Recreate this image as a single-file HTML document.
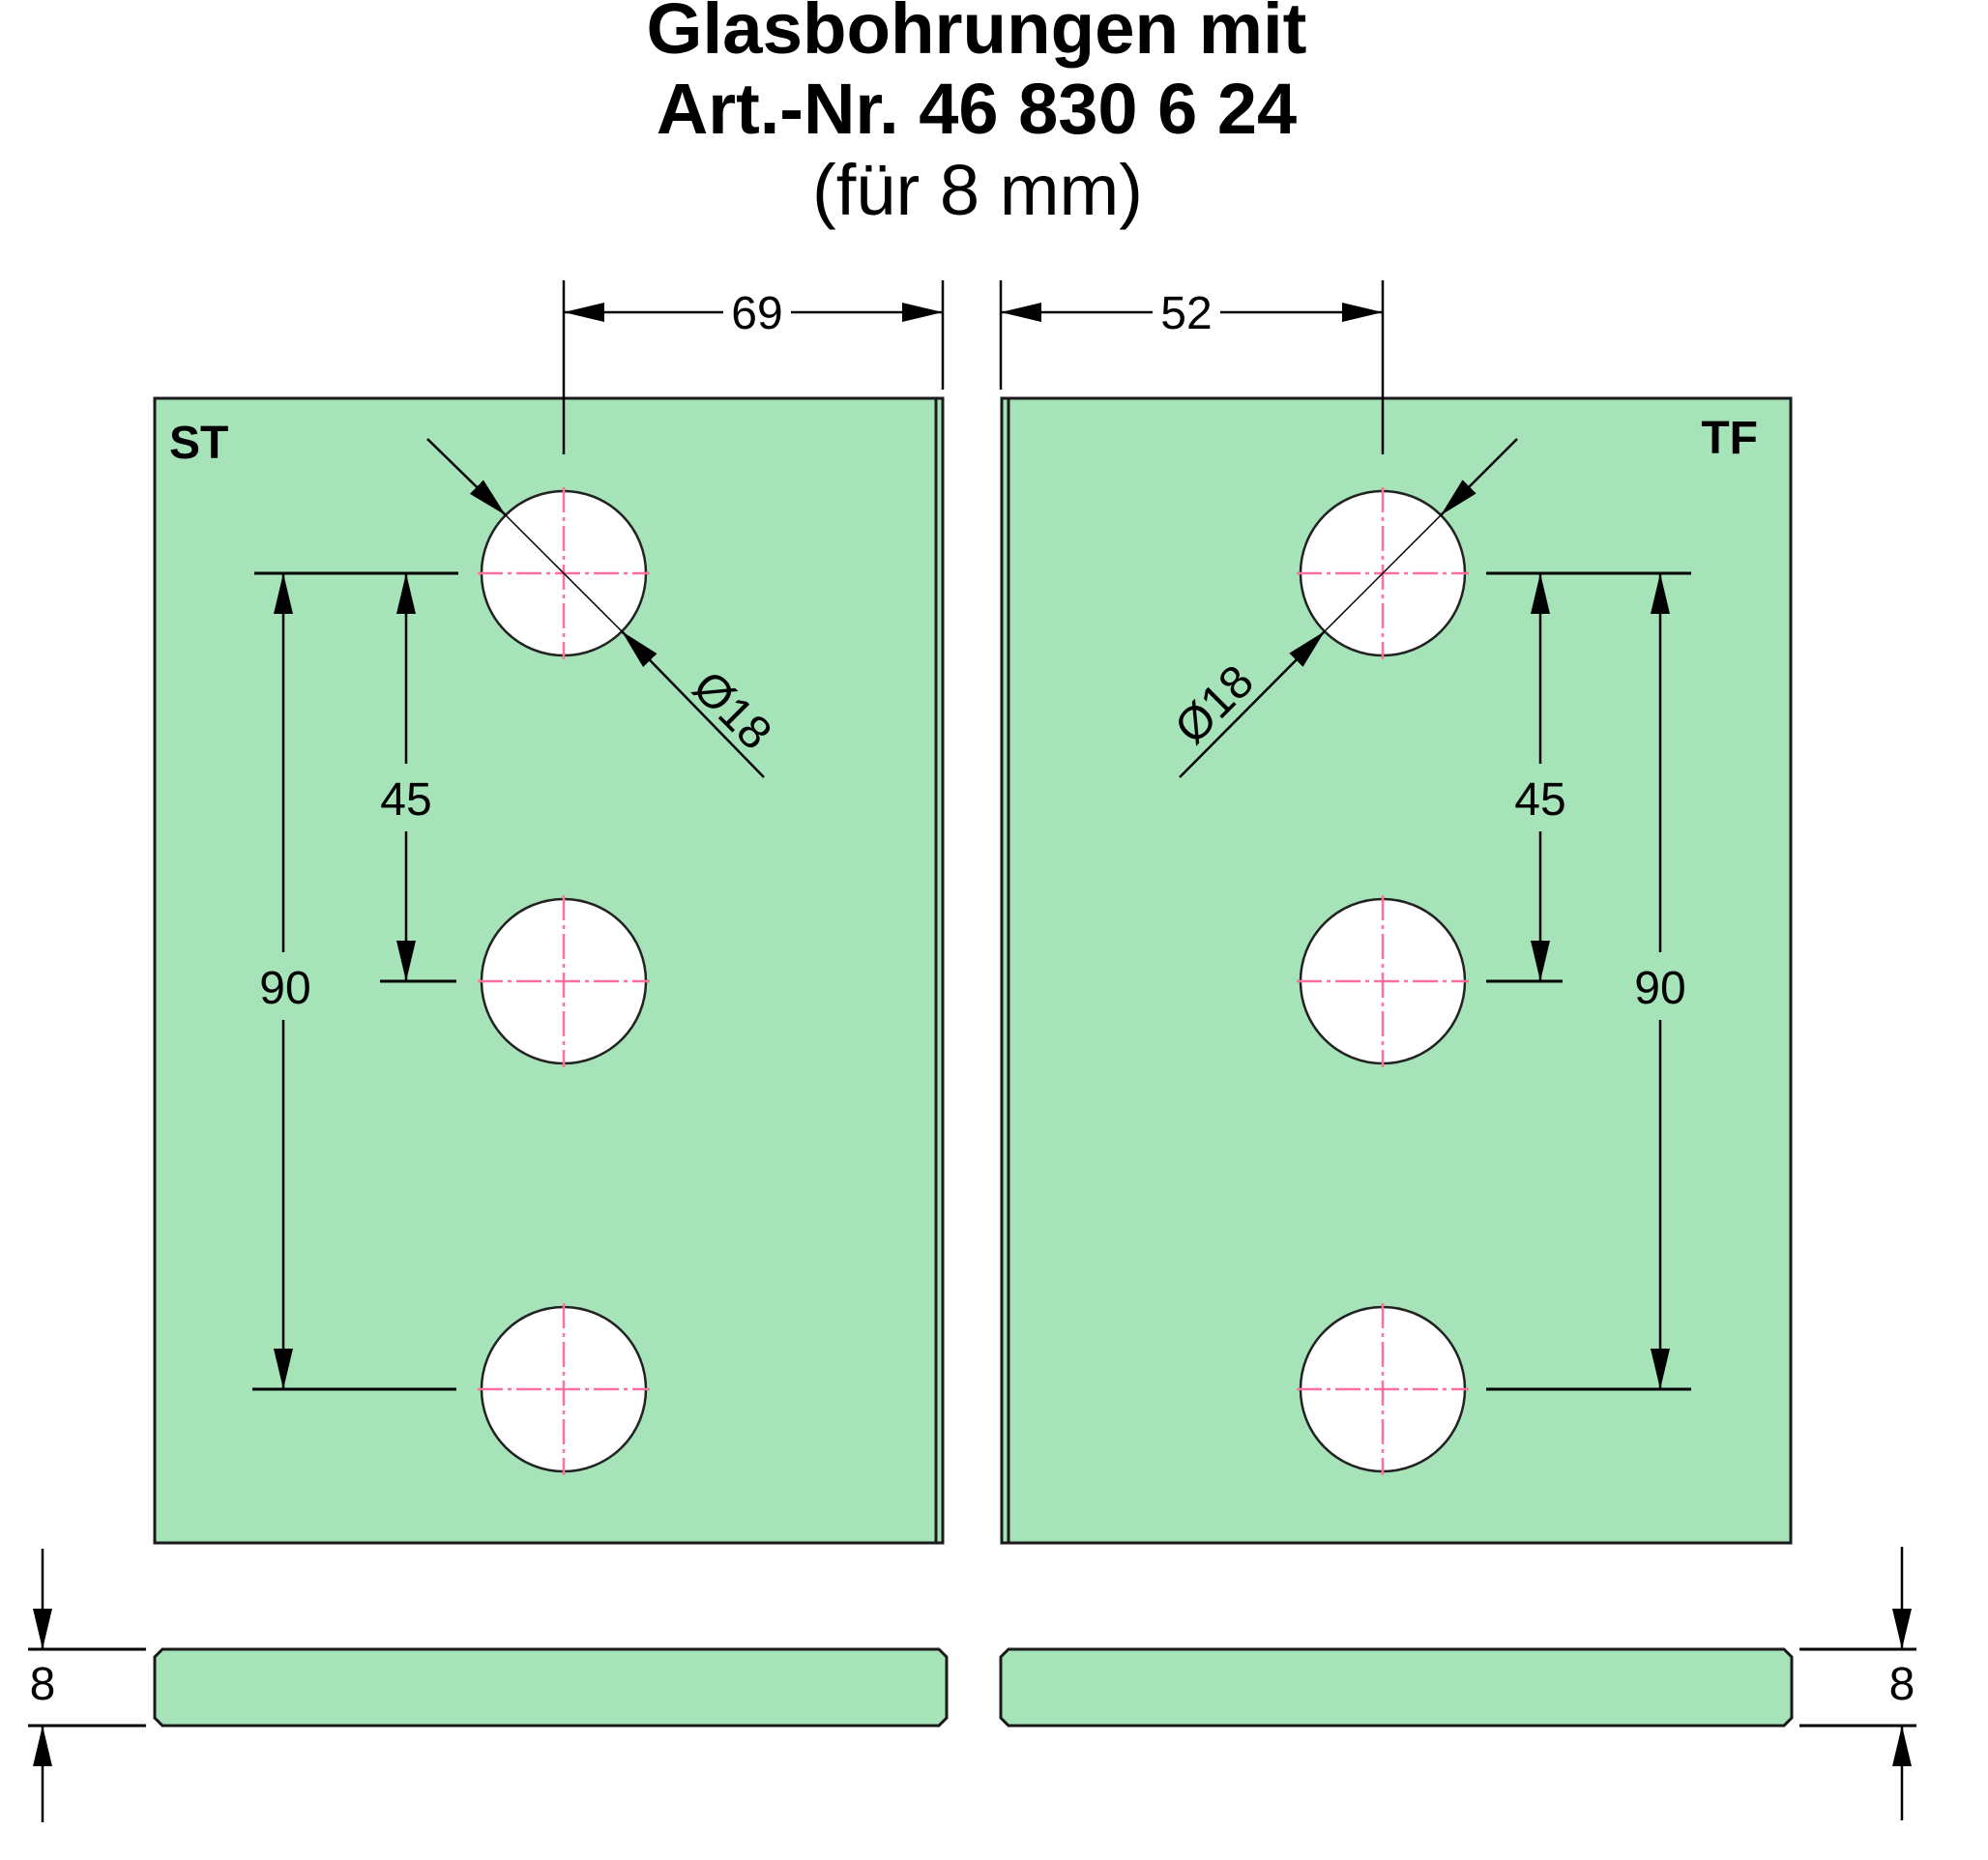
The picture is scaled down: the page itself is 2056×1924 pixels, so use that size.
<!DOCTYPE html>
<html><head><meta charset="utf-8"><style>html,body{margin:0;padding:0;background:#fff}svg{display:block}</style></head>
<body>
<svg width="2056" height="1924" viewBox="0 0 2056 1924" xmlns="http://www.w3.org/2000/svg" font-family="Liberation Sans, sans-serif">
<defs>
<marker id="a" viewBox="0 0 42 20" refX="42" refY="10" markerWidth="42" markerHeight="20" markerUnits="userSpaceOnUse" orient="auto-start-reverse"><path d="M0,0 L42,10 L0,20 Z" fill="#000"/></marker>
</defs>
<text x="1010" y="55" font-size="74" font-weight="bold" text-anchor="middle" textLength="683" lengthAdjust="spacingAndGlyphs">Glasbohrungen mit</text>
<text x="1010" y="138" font-size="74" font-weight="bold" text-anchor="middle">Art.-Nr. 46 830 6 24</text>
<text x="1011" y="222" font-size="74" text-anchor="middle" textLength="342" lengthAdjust="spacingAndGlyphs">(für 8 mm)</text>

<rect x="160" y="412" width="815" height="1184" fill="#a6e3b9" stroke="#1a1a1a" stroke-width="3"/>
<line x1="968" y1="412" x2="968" y2="1596" stroke="#1a1a1a" stroke-width="3"/>
<rect x="1036" y="412" width="816" height="1184" fill="#a6e3b9" stroke="#1a1a1a" stroke-width="3"/>
<line x1="1043" y1="412" x2="1043" y2="1596" stroke="#1a1a1a" stroke-width="3"/>
<text x="175" y="474" font-size="48" font-weight="bold">ST</text>
<text x="1818" y="469" font-size="48" font-weight="bold" text-anchor="end">TF</text>

<g stroke="#222" stroke-width="2.5" fill="#fff">
<circle cx="583" cy="593" r="85"/><circle cx="583" cy="1015" r="85"/><circle cx="583" cy="1437" r="85"/>
<circle cx="1430" cy="593" r="85"/><circle cx="1430" cy="1015" r="85"/><circle cx="1430" cy="1437" r="85"/>
</g>
<g stroke="#ff6fa0" stroke-width="2.5" stroke-dasharray="26,5,4,5">
<path d="M583,504V682M494,593H672M583,926V1104M494,1015H672M583,1348V1526M494,1437H672"/>
<path d="M1430,504V682M1341,593H1519M1430,926V1104M1341,1015H1519M1430,1348V1526M1341,1437H1519"/>
</g>

<g stroke="#000" stroke-width="2.5" fill="none">
<line x1="583" y1="290" x2="583" y2="470"/>
<line x1="975" y1="290" x2="975" y2="403"/>
<line x1="583" y1="323" x2="748" y2="323" marker-start="url(#a)"/>
<line x1="818" y1="323" x2="975" y2="323" marker-end="url(#a)"/>
<line x1="1035" y1="290" x2="1035" y2="403"/>
<line x1="1430" y1="290" x2="1430" y2="470"/>
<line x1="1035" y1="323" x2="1192" y2="323" marker-start="url(#a)"/>
<line x1="1262" y1="323" x2="1430" y2="323" marker-end="url(#a)"/>
<line x1="263" y1="593" x2="474" y2="593" stroke-width="3"/>
<line x1="393" y1="1015" x2="472" y2="1015" stroke-width="3"/>
<line x1="261" y1="1437" x2="472" y2="1437" stroke-width="3"/>
<line x1="420" y1="593" x2="420" y2="790" marker-start="url(#a)"/>
<line x1="420" y1="860" x2="420" y2="1015" marker-end="url(#a)"/>
<line x1="293" y1="593" x2="293" y2="985" marker-start="url(#a)"/>
<line x1="293" y1="1055" x2="293" y2="1437" marker-end="url(#a)"/>
<line x1="1537" y1="593" x2="1749" y2="593" stroke-width="3"/>
<line x1="1537" y1="1015" x2="1616" y2="1015" stroke-width="3"/>
<line x1="1537" y1="1437" x2="1749" y2="1437" stroke-width="3"/>
<line x1="1593" y1="593" x2="1593" y2="790" marker-start="url(#a)"/>
<line x1="1593" y1="860" x2="1593" y2="1015" marker-end="url(#a)"/>
<line x1="1717" y1="593" x2="1717" y2="985" marker-start="url(#a)"/>
<line x1="1717" y1="1055" x2="1717" y2="1437" marker-end="url(#a)"/>
<line x1="442" y1="454" x2="523" y2="533" marker-end="url(#a)"/>
<line x1="523" y1="533" x2="643" y2="653" stroke-width="1.5"/>
<line x1="790" y1="804" x2="643" y2="653" marker-end="url(#a)"/>
<line x1="1569" y1="454" x2="1490" y2="533" marker-end="url(#a)"/>
<line x1="1490" y1="533" x2="1370" y2="653" stroke-width="1.5"/>
<line x1="1220" y1="804" x2="1370" y2="653" marker-end="url(#a)"/>
</g>

<g font-size="48" text-anchor="middle">
<text x="783" y="340">69</text>
<text x="1227" y="340">52</text>
<text x="420" y="843">45</text>
<text x="295" y="1038">90</text>
<text x="1593" y="843">45</text>
<text x="1717" y="1038">90</text>
<text x="0" y="17" transform="translate(758,734) rotate(45)">Ø18</text>
<text x="0" y="17" transform="translate(1255,728) rotate(-45)">Ø18</text>
<text x="44" y="1758">8</text>
<text x="1967" y="1758">8</text>
</g>

<path d="M168,1706 H971 L979,1714 V1777 L971,1785 H168 L160,1777 V1714 Z" fill="#a6e3b9" stroke="#1a1a1a" stroke-width="3"/>
<path d="M1043,1706 H1845 L1853,1714 V1777 L1845,1785 H1043 L1035,1777 V1714 Z" fill="#a6e3b9" stroke="#1a1a1a" stroke-width="3"/>
<g stroke="#000" stroke-width="2.5">
<line x1="29" y1="1706" x2="151" y2="1706" stroke-width="3"/>
<line x1="29" y1="1785" x2="151" y2="1785" stroke-width="3"/>
<line x1="44" y1="1602" x2="44" y2="1706" marker-end="url(#a)"/>
<line x1="44" y1="1885" x2="44" y2="1785" marker-end="url(#a)"/>
<line x1="1861" y1="1706" x2="1982" y2="1706" stroke-width="3"/>
<line x1="1861" y1="1785" x2="1982" y2="1785" stroke-width="3"/>
<line x1="1967" y1="1600" x2="1967" y2="1706" marker-end="url(#a)"/>
<line x1="1967" y1="1883" x2="1967" y2="1785" marker-end="url(#a)"/>
</g>
</svg>
</body></html>
